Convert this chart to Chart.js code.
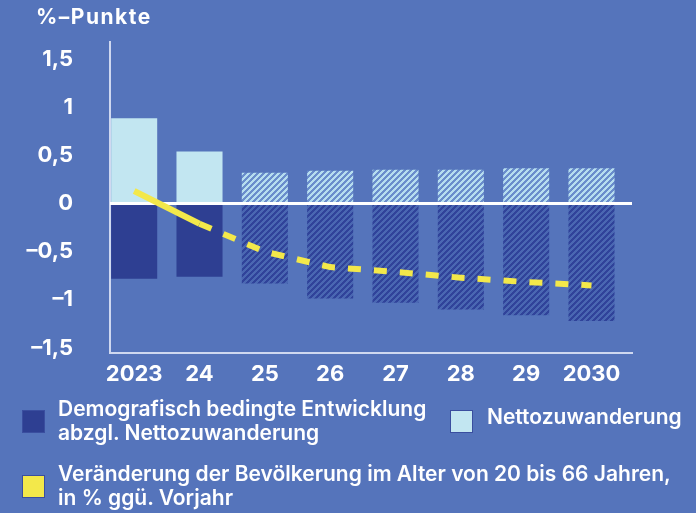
<!DOCTYPE html>
<html>
<head>
<meta charset="utf-8">
<script src="https://cdn.jsdelivr.net/npm/chart.js@4.4.1/dist/chart.umd.min.js"></script>
<style>
html,body{margin:0;padding:0;background:#5574bb;}
#wrap{position:relative;width:696px;height:513px;overflow:hidden;background:#5574bb;font-family:Inter,"Noto Sans",sans-serif;color:#fff;}
#c{position:absolute;left:0;top:0;}
#title{position:absolute;left:36px;top:4px;font-weight:700;font-size:21px;line-height:26px;letter-spacing:1.5px;}
.leg{position:absolute;font-weight:600;font-size:21px;line-height:24px;white-space:nowrap;}
.sw{position:absolute;width:23px;height:23px;box-sizing:border-box;border:1px solid #3a4e9f;}
</style>
</head>
<body>
<div id="wrap">
<canvas id="c" width="696" height="513"></canvas>
<div id="title">%–Punkte</div>
<div id="legend"></div>
</div>
<script>
// ---- data ----
const categories = ['2023','24','25','26','27','28','29','2030'];
const demografie = [-0.78,-0.76,-0.83,-0.985,-1.03,-1.10,-1.16,-1.22];
const nettozuwanderung = [0.885,0.54,0.32,0.34,0.35,0.35,0.365,0.365];
const bevoelkerung = [0.13,-0.21,-0.50,-0.66,-0.71,-0.77,-0.815,-0.85];
const yTickValues = [-1.5,-1,-0.5,0,0.5,1,1.5];
const yTickLabels = ['–1,5','–1','–0,5','0','0,5','1','1,5'];
const firstProjected = 2;
const seriesNames = [
  ['Demografisch bedingte Entwicklung','abzgl. Nettozuwanderung'],
  ['Nettozuwanderung'],
  ['Veränderung der Bevölkerung im Alter von 20 bis 66 Jahren,','in % ggü. Vorjahr']
];

// ---- styles ----
const NAVY = '#2e3f92', LIGHT = '#c2e6f1', YELLOW = '#f3e84a';
const FONT = 'Inter, "Noto Sans", sans-serif';

const cv = document.getElementById('c');
const cctx = cv.getContext('2d');
function stripes(c1, c2){
  const t = document.createElement('canvas'); t.width = 6; t.height = 6;
  const g = t.getContext('2d');
  const hex = c => [1,3,5].map(i => parseInt(c.substr(i,2),16));
  const a = hex(c1), b = hex(c2);
  const img = g.createImageData(6,6);
  for (let y=0;y<6;y++) for (let x=0;x<6;x++){
    const col = ((x+y)%6) < 3 ? a : b;
    const k = (y*6+x)*4;
    img.data[k]=col[0]; img.data[k+1]=col[1]; img.data[k+2]=col[2]; img.data[k+3]=255;
  }
  g.putImageData(img,0,0);
  return cctx.createPattern(t,'repeat');
}
const navyHatch = stripes('#30439a','#4a67b2');
const lightHatch = stripes('#b6ddef','#6a8dcc');

const pts = arr => arr.map((v,i) => ({x:i, y:v}));

const zeroLine = {
  id:'zeroLine',
  beforeDatasetDraw(chart, args){
    if (args.meta.type !== 'line') return;
    const {ctx, chartArea:{left,right}, scales:{y}} = chart;
    const py = y.getPixelForValue(0);
    ctx.save();
    ctx.strokeStyle = '#ffffff'; ctx.lineWidth = 3;
    ctx.beginPath(); ctx.moveTo(left, py); ctx.lineTo(right, py); ctx.stroke();
    ctx.restore();
  }
};

new Chart(cv, {
  data: {
    datasets: [
      {
        type:'line', label: seriesNames[2].join(' '), data: pts(bevoelkerung),
        borderColor: YELLOW, borderWidth: 6, pointRadius: 0, tension: 0,
        borderCapStyle:'butt', order: 0,
        segment: { borderDash: c => c.p0DataIndex >= 1 ? [13,13] : undefined }
      },
      {
        type:'bar', label: seriesNames[0].join(' '), data: pts(demografie), grouped:false,
        backgroundColor: c => c.dataIndex < firstProjected ? NAVY : navyHatch,
        categoryPercentage: 1, barPercentage: 0.705, order: 1
      },
      {
        type:'bar', label: seriesNames[1].join(' '), data: pts(nettozuwanderung), grouped:false,
        backgroundColor: c => c.dataIndex < firstProjected ? LIGHT : lightHatch,
        categoryPercentage: 1, barPercentage: 0.705, order: 1
      }
    ]
  },
  options: {
    responsive:false, animation:false, devicePixelRatio:1,
    layout:{ padding:{ top:42, right:64, left:0, bottom:0 } },
    plugins:{ legend:{display:false}, tooltip:{enabled:false} },
    scales:{
      x:{
        type:'linear', min:-0.37, max:7.62, offset:false,
        afterBuildTicks: s => { s.ticks = categories.map((_,i)=>({value:i})); },
        afterFit: s => { s.height = 160; s.paddingLeft = 0; s.paddingRight = 0; },
        ticks:{ callback: v => categories[v], color:'#fff', padding:8, maxRotation:0, autoSkip:false,
          font:{family:FONT, size:22, weight:'700'} },
        grid:{ display:true, color:'rgba(0,0,0,0)', drawTicks:false },
        border:{ display:true, color:'#cfd8f0', width:2 }
      },
      y:{
        type:'linear', min:-1.552, max:1.677,
        afterBuildTicks: s => { s.ticks = yTickValues.map(v=>({value:v})); },
        afterFit: s => { s.width = 110; s.paddingTop = 0; s.paddingBottom = 0; },
        ticks:{ callback: v => yTickLabels[yTickValues.indexOf(v)], color:'#fff', padding:37,
          font:{family:FONT, size:22, weight:'700'} },
        grid:{ display:true, color:'rgba(0,0,0,0)', drawTicks:false },
        border:{ display:true, color:'#cfd8f0', width:2 }
      }
    }
  },
  plugins:[zeroLine]
});

// ---- legend (HTML text) ----
const legendSwatches = [NAVY, LIGHT, YELLOW];
const legendBoxes = [ {sx:22, sy:410, tx:58, ty:397}, {sx:450, sy:410, tx:487, ty:405}, {sx:22, sy:475, tx:58, ty:462} ];
const lg = document.getElementById('legend');
seriesNames.forEach((lines, i) => {
  const b = legendBoxes[i];
  const sw = document.createElement('div'); sw.className='sw';
  sw.style.left=b.sx+'px'; sw.style.top=b.sy+'px'; sw.style.background=legendSwatches[i];
  lg.appendChild(sw);
  const t = document.createElement('div'); t.className='leg';
  t.style.left=b.tx+'px'; t.style.top=b.ty+'px';
  t.innerHTML = lines.join('<br>');
  lg.appendChild(t);
});
</script>
</body>
</html>
